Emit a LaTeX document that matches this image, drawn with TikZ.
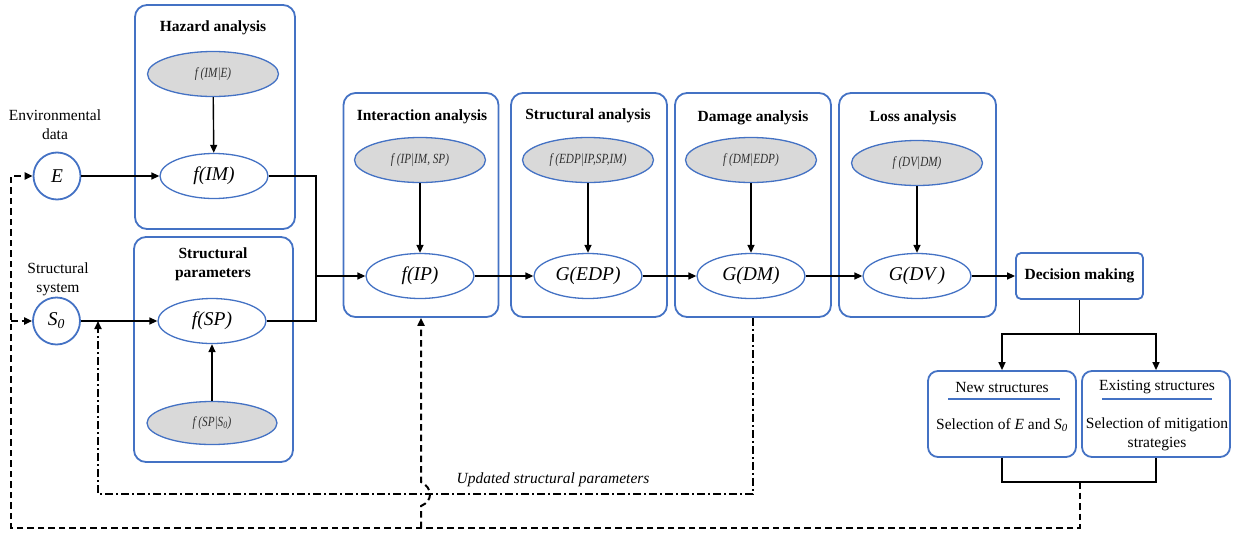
\documentclass[tikz,border=0pt]{standalone}
\usepackage{fontspec}
\setmainfont{Liberation Serif}
\newfontfamily\gfam{Liberation Serif}[FakeStretch=0.8]
\usetikzlibrary{arrows.meta,shapes.geometric}
\definecolor{bblue}{HTML}{4472C4}
\definecolor{gfill}{HTML}{D9D9D9}
\definecolor{gtext}{HTML}{303030}
\newcommand\myN{\fontsize{15.5pt}{19pt}\selectfont}
\newcommand\myBig{\fontsize{19.5pt}{22pt}\selectfont\itshape}
\newcommand\myG{\gfam\fontsize{14pt}{16pt}\selectfont\itshape\color{gtext}}
\begin{document}
\begin{tikzpicture}[x=1pt,y=-1pt,
  grp/.style={draw=bblue, line width=1.8pt, rounded corners=12pt, inner sep=0pt},
  ttl/.style={font=\myN\bfseries, align=center, inner sep=0pt},
  lbl/.style={font=\myN, align=center, inner sep=0pt},
  bigell/.style={ellipse, draw=bblue, line width=1.3pt, fill=white, minimum width=108pt, minimum height=45pt, inner sep=0pt, font=\myBig},
  gell/.style={ellipse, draw=bblue, line width=1.3pt, fill=gfill, minimum width=131pt, minimum height=45pt, inner sep=0pt, font=\myG},
  circ/.style={circle, draw=bblue, line width=1.8pt, minimum size=47pt, inner sep=0pt, font=\myBig},
  conn/.style={draw=black, line width=1.4pt},
  tip/.style={-{Triangle[length=8pt,width=7pt]}},
  arr/.style={conn, tip},
  dsh/.style={conn, line width=2pt, dash pattern=on 6.5pt off 4pt},
  dd/.style={conn, line width=1.7pt, dash pattern=on 8pt off 3pt on 2pt off 3pt},
  dec/.style={draw=bblue, line width=1.8pt, rounded corners=5pt, inner sep=0pt},
  sbox/.style={draw=bblue, line width=1.8pt, rounded corners=10pt, inner sep=0pt, minimum width=148pt, minimum height=86pt}
]
\useasboundingbox (0,0) rectangle (1244,533);

% group boxes
\node[grp, minimum width=160pt, minimum height=224pt] (haz) at (215,117) {};
\node[grp, minimum width=159pt, minimum height=225pt] (spb) at (213.5,349.5) {};
\node[grp, minimum width=155pt, minimum height=224pt] (ia) at (421,205) {};
\node[grp, minimum width=156pt, minimum height=224pt] (sa) at (589,205) {};
\node[grp, minimum width=156pt, minimum height=224pt] (da) at (753,205) {};
\node[grp, minimum width=157pt, minimum height=224pt] (la) at (917.5,205) {};

% titles
\node[ttl] (tHaz) at (213,28) {Hazard analysis};
\node[ttl] (tSP) at (213,264) {Structural\\parameters};
\node[ttl] (tIA) at (422,117) {Interaction analysis};
\node[ttl] (tSA) at (588,116) {Structural analysis};
\node[ttl] (tDA) at (753,118) {Damage analysis};
\node[ttl] (tLA) at (913,118) {Loss analysis};

% ellipses
\node[gell] (gIM) at (213,74) {f (IM|E)};
\node[bigell] (fIM) at (214,176) {f(IM)};
\node[bigell] (fSP) at (212,321) {f(SP)};
\node[gell, minimum width=130pt, minimum height=43pt] (gSP) at (212,423) {f (SP|S\textsubscript{0})};
\node[gell] (gIP) at (420,160) {f (IP|IM, SP)};
\node[bigell] (fIP) at (420,276) {f(IP)};
\node[gell] (gEDP) at (588,160) {f (EDP|IP,SP,IM)};
\node[bigell] (GEDP) at (588,276) {G(EDP)};
\node[gell] (gDM) at (751,160) {f (DM|EDP)};
\node[bigell] (GDM) at (751,276) {G(DM)};
\node[gell] (gDV) at (917,163) {f (DV|DM)};
\node[bigell] (GDV) at (917,276) {G(DV\,)};

% inputs
\node[circ] (E) at (57,176) {E};
\node[circ] (S0) at (56.5,321) {S\textsubscript{0}};
\node[lbl] (tE) at (55,125) {Environmental\\data};
\node[lbl] (tS) at (58,279) {Structural\\system};

% decision
\node[dec, minimum width=127pt, minimum height=46pt, font=\myN\bfseries] (decm) at (1079.5,276) {Decision making};
\node[sbox] (new) at (1002,414) {};
\node[sbox] (ex) at (1156,414) {};
\node[lbl] (tNew) at (1002,387) {New structures};
\node[lbl] (sNew) at (1002,425) {Selection of \textit{E} and \textit{S}\textsubscript{\textit{0}}};
\node[lbl] (tEx) at (1157,387) {Existing structures};
\node[lbl] (sEx) at (1157,434) {Selection of mitigation\\strategies};
\draw[draw=bblue, line width=1.5pt] (948,399) -- (1060,399);
\draw[draw=bblue, line width=1.5pt] (1102,399) -- (1212,399);

\node[lbl, font=\myN\itshape] (upd) at (553,480) {Updated structural parameters};

% coordinates
\coordinate (m) at (316,276);
\coordinate (dj) at (1079.5,334);
\coordinate (br) at (1079.5,482);
\coordinate (c3) at (11,528);
\coordinate (c5) at (11,321);
\coordinate (c6) at (ia.south |- c3);
\coordinate (dd2) at (98,494);
\coordinate (ddend) at (98,321);

% solid connectors
\draw[arr] (gIM) -- (fIM);
\draw[arr] (gSP) -- (fSP);
\draw[arr] (gIP) -- (fIP);
\draw[arr] (gEDP) -- (GEDP);
\draw[arr] (gDM) -- (GDM);
\draw[arr] (gDV) -- (GDV);
\draw[arr] (E) -- (fIM);
\draw[arr] (S0) -- (fSP);
\draw[conn] (fIM.east) -| (m);
\draw[conn] (fSP.east) -| (m);
\draw[arr] (m) -- (fIP.west);
\draw[arr] (fIP) -- (GEDP);
\draw[arr] (GEDP) -- (GDM);
\draw[arr] (GDM) -- (GDV);
\draw[arr] (GDV) -- (decm);
\draw[conn] (decm.south) -- (dj);
\draw[arr] (dj) -| (new.north);
\draw[arr] (dj) -| (ex.north);
\draw[conn] (new.south) |- (br) -| (ex.south);

% dashed feedback
\draw[dsh, tip] (br) |- (c3) |- (E.west);
\draw[dsh, tip] (c5) -- (S0.west);
\draw[dsh, tip] (c6) -- ++(0,-22) .. controls ++(12,-5) and ++(12,6) .. ++(0,-24) -- (ia.south);

% dash-dot feedback
\draw[dd, tip] (da.south) |- (dd2) -- (ddend);
\end{tikzpicture}
\end{document}
